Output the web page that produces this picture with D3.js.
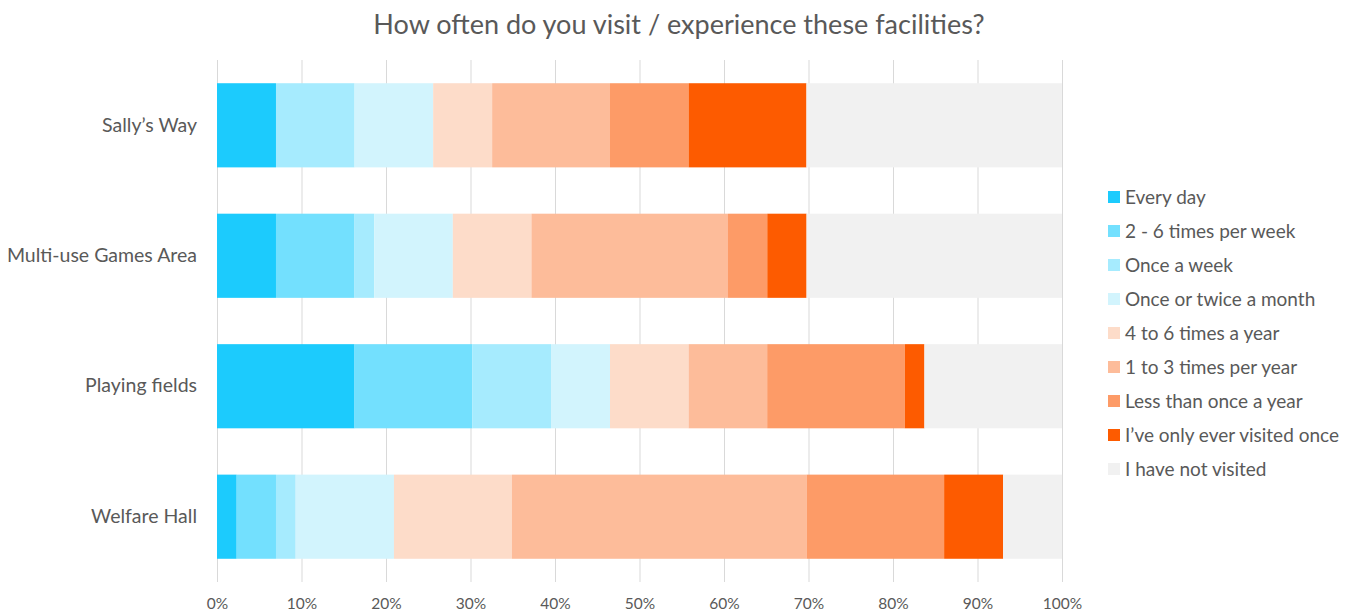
<!DOCTYPE html>
<html><head><meta charset="utf-8">
<script src="https://cdn.jsdelivr.net/npm/d3@7"></script>
<style>body{margin:0;background:#fff}svg{display:block}</style>
</head><body>
<svg id="c" width="1360" height="612"></svg>
<script>
const categories = ["Sally\u2019s Way", "Multi-use Games Area", "Playing fields", "Welfare Hall"];
const seriesNames = ["Every day", "2 - 6 times per week", "Once a week", "Once or twice a month",
  "4 to 6 times a year", "1 to 3 times per year", "Less than once a year",
  "I\u2019ve only ever visited once", "I have not visited"];
const colors = ["#1ccbfd", "#73e0fe", "#a6ebfe", "#d2f4fd", "#fddcc9", "#fdbc9a", "#fd9b67", "#fd5b00", "#f1f1f1"];
// percentages per category (responses out of 43)
const everyDay      = [6.98, 6.98, 16.28, 2.33];
const twoToSix      = [0, 9.30, 13.95, 4.65];
const onceWeek      = [9.30, 2.33, 9.30, 2.33];
const onceTwiceMon  = [9.30, 9.30, 6.98, 11.63];
const fourToSixYr   = [6.98, 9.30, 9.30, 13.95];
const oneToThreeYr  = [13.95, 23.26, 9.30, 34.88];
const lessThanYr    = [9.30, 4.65, 16.28, 16.28];
const onlyOnce      = [13.95, 4.65, 2.33, 6.98];
const notVisited    = [30.23, 30.23, 16.28, 6.98];
const tickValues = [0,10,20,30,40,50,60,70,80,90,100];

const seriesValues = [everyDay, twoToSix, onceWeek, onceTwiceMon, fourToSixYr, oneToThreeYr, lessThanYr, onlyOnce, notVisited];
const rows = categories.map((c, i) => {
  const o = {cat: c};
  seriesNames.forEach((s, j) => o[s] = seriesValues[j][i]);
  return o;
});
const stackData = d3.stack().keys(seriesNames)(rows);

const svg = d3.select("#c");
const font = "Lato, 'Open Sans', sans-serif";
const textColor = "#595959";
const pLeft = 217, pRight = 1062, pTop = 60, pBottom = 582;

const x = d3.scaleLinear().domain([0, 100]).range([pLeft, pRight]);
const y = d3.scaleBand().domain(categories).range([pTop, pBottom]).paddingInner(0.355).paddingOuter(0.178);

// gridlines
svg.append("g").selectAll("line").data(tickValues).join("line")
  .attr("x1", d => x(d) + 0.5).attr("x2", d => x(d) + 0.5)
  .attr("y1", pTop).attr("y2", pBottom)
  .attr("stroke", "#d9d9d9").attr("stroke-width", 1);

// bars
svg.append("g").selectAll("g").data(stackData).join("g")
  .attr("fill", (d, i) => colors[i])
  .selectAll("rect").data(d => d).join("rect")
  .attr("x", d => x(d[0]))
  .attr("width", d => Math.max(0, x(d[1]) - x(d[0])))
  .attr("y", d => y(d.data.cat))
  .attr("height", y.bandwidth());

// x axis labels
const xAxis = d3.axisBottom(x).tickValues(tickValues).tickFormat(d => d + "%").tickSize(0).tickPadding(0);
const gx = svg.append("g").attr("transform", `translate(0,${pBottom})`).call(xAxis);
gx.select(".domain").remove();
gx.selectAll("text").attr("dy", null).attr("y", 27).attr("fill", textColor)
  .style("font-family", font).style("font-size", "15.5px");

// y axis labels
const yAxis = d3.axisLeft(y).tickSize(0).tickPadding(20);
const gy = svg.append("g").attr("transform", `translate(${pLeft},0)`).call(yAxis);
gy.select(".domain").remove();
gy.selectAll("text").attr("fill", textColor).style("font-family", font).style("font-size", "19.5px");

// title
svg.append("text").attr("x", 679).attr("y", 34).attr("text-anchor", "middle")
  .attr("fill", textColor).style("font-family", font).style("font-size", "27px")
  .text("How often do you visit / experience these facilities?");

// legend
const lg = svg.append("g").attr("transform", "translate(1108,197)");
const li = lg.selectAll("g").data(seriesNames).join("g").attr("transform", (d, i) => `translate(0,${i * 34})`);
li.append("rect").attr("x", 0).attr("y", -6).attr("width", 12).attr("height", 12).attr("fill", (d, i) => colors[i]);
li.append("text").attr("x", 17).attr("y", 0).attr("dy", "0.35em").attr("fill", textColor)
  .style("font-family", font).style("font-size", "19px").text(d => d);
</script>
</body></html>
